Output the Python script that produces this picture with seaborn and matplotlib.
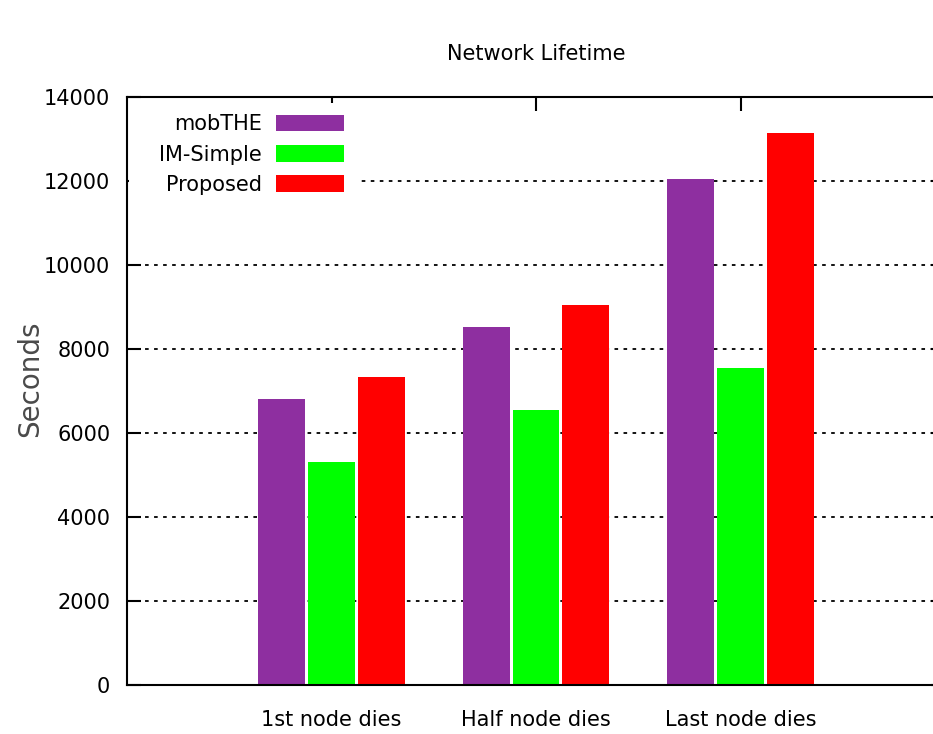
import matplotlib
matplotlib.use("Agg")
import matplotlib.pyplot as plt
from matplotlib.patches import Rectangle
import pandas as pd
import seaborn as sns

# values
stages = ["1st node dies", "Half node dies", "Last node dies"]
mobthe = [6800, 8530, 12050]
im_simple = [5300, 6550, 7550]
proposed = [7330, 9050, 13150]
methods = ["mobTHE", "IM-Simple", "Proposed"]
colors = ["#8e2fa0", "#00ff00", "#ff0000"]
yticks = [0, 2000, 4000, 6000, 8000, 10000, 12000, 14000]

df = pd.DataFrame({"Stage": stages * 3,
                   "Method": [m for m in methods for _ in stages],
                   "Seconds": mobthe + im_simple + proposed})

plt.rcParams["font.family"] = ["DejaVu Sans"]

fig = plt.figure(figsize=(9.33, 7.34), dpi=100)
# right spine lies just outside the picture, as in the reference
ax = fig.add_axes([127 / 933, 49 / 734, 818 / 933, 588 / 734])

sns.barplot(data=df, x="Stage", y="Seconds", hue="Method", hue_order=methods,
            palette=colors, width=0.73, gap=0.06, saturation=1, ax=ax)

ax.set_xlim(-1, 3)
ax.set_ylim(0, 14000)
ax.set_yticks(yticks)
ax.set_yticklabels([str(v) for v in yticks])
ax.set_axisbelow(True)
ax.yaxis.grid(True, color="black", linestyle=(0, (2, 3)), linewidth=1.3)

for s in ax.spines.values():
    s.set_linewidth(1.5)
    s.set_color("black")

ax.tick_params(axis="y", direction="in", length=10, width=1.5, pad=12,
               labelsize=15, right=True)
ax.tick_params(axis="x", direction="in", length=10, width=1.5, pad=18,
               labelsize=15, bottom=False, top=True)

ax.set_xlabel("")
ax.set_ylabel("Seconds", fontsize=20, color="#4a4a4a")
ax.yaxis.set_label_coords(-0.101, 0.52)
ax.set_title("Network Lifetime", fontsize=15, pad=27)

# white key box hides the grid behind the legend, gnuplot style
ax.add_patch(Rectangle((0.002, 0.81), 0.28, 0.18, transform=ax.transAxes,
                       facecolor="white", edgecolor="none", zorder=0.8))

leg = ax.legend(loc="upper right", bbox_to_anchor=(0.276, 0.985),
                markerfirst=False, fontsize=15, handlelength=3.3,
                handleheight=0.85, handletextpad=0.67, labelspacing=0.5,
                borderpad=0.4, borderaxespad=0, fancybox=False,
                framealpha=1, edgecolor="white", facecolor="white")
leg.set_title(None)

fig.savefig("out.png", dpi=100)
